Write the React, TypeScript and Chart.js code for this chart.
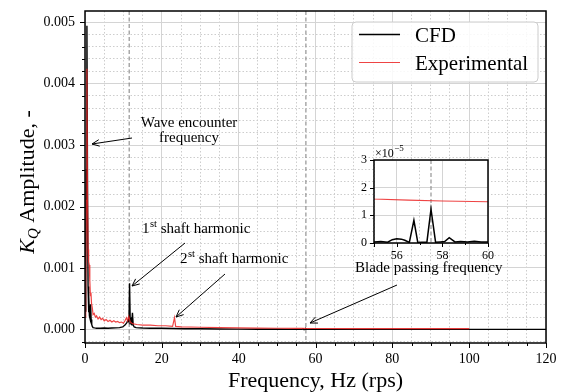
import React, { useEffect, useRef } from 'react';
import { Chart, registerables } from 'chart.js';

Chart.register(...registerables);

const SERIF = '"Liberation Serif", "Times New Roman", serif';

// ---- data ----
const cfdFreq = [0, 0.2, 0.35, 0.5, 0.65, 0.8, 0.92, 1.02, 1.15, 1.3, 1.45, 1.6, 1.75, 1.9, 2.1, 2.5, 3, 4, 5, 6, 7, 8, 9, 9.8, 10.4, 10.9, 11.2, 11.45, 11.6, 11.75, 11.95, 12.15, 12.35, 12.55, 12.8, 13.3, 14, 15, 17, 20, 23, 26, 30, 35, 40, 45, 50, 53, 55, 55.3, 55.6, 55.8, 56, 56.2, 56.35, 56.55, 56.75, 56.92, 57.1, 57.32, 57.5, 57.7, 57.9, 58.1, 58.3, 58.55, 58.8, 59.1, 59.4, 59.7, 60, 63, 66, 70, 75, 80, 90, 100, 110, 120];
const cfdAmp = [0.0003, 0.0009, 0.0026, 0.00494, 0.0024, 0.0007, 0.00028, 0.00053, 0.00022, 0.00018, 0.00041, 0.00016, 0.00008, 0.00005, 0.00003, 0.000025, 0.00002, 0.00002, 0.000022, 0.00002, 0.000022, 0.000025, 0.00003, 0.00004, 0.00007, 0.00011, 0.00015, 0.00012, 0.00075, 0.0002, 0.00009, 0.00008, 0.00027, 0.00007, 0.00004, 0.00003, 0.000025, 0.000022, 0.00002, 0.000018, 0.000015, 0.000012, 0.00001, 0.000007, 0.000005, 0.000003, 0.000002, 0.000001, 0.0000004, 0.0000005, 0.0000003, 0.0000012, 0.0000015, 0.0000014, 0.000001, 0.0000002, 0.0000082, 0.0000002, 0.0000003, 0.0000003, 0.0000122, 0.0000003, 0.0000004, 0.0000005, 0.0000019, 0.0000004, 0.0000005, 0.0000004, 0.0000006, 0.0000004, 0.0000004, 0.0000004, 0.0000003, 0.0000003, 0.0000003, 0.0000002, 0.0000002, 0.0000002, 0.0000002, 0.0000002];

const expFreq = [0, 0.2, 0.35, 0.5, 0.65, 0.8, 0.95, 1.1, 1.25, 1.4, 1.55, 1.7, 1.9, 2.1, 2.4, 2.7, 3.0, 3.4, 3.8, 4.2, 4.6, 5.0, 5.5, 6.0, 6.5, 7.0, 7.5, 8.0, 8.5, 9.0, 9.5, 10.0, 10.4, 10.8, 11.1, 11.4, 11.8, 12.2, 12.7, 13.5, 15, 17, 19, 21, 22.8, 23.3, 23.6, 25, 30, 35, 40, 45, 50, 55, 56.5, 58, 60, 70, 80, 90, 100];
const expAmp = [0.0002, 0.0008, 0.0021, 0.00424, 0.0022, 0.0013, 0.0011, 0.00105, 0.0008, 0.00055, 0.0006, 0.00042, 0.00035, 0.00024, 0.00026, 0.0002, 0.00022, 0.00017, 0.0002, 0.00016, 0.00018, 0.00014, 0.00016, 0.00013, 0.00015, 0.00012, 0.00014, 0.00012, 0.00013, 0.00011, 0.00012, 0.0001, 0.00014, 0.00019, 0.00014, 0.00021, 0.00012, 0.0001, 0.00009, 0.00008, 0.00007, 0.00007, 0.00006, 0.00006, 0.00005, 0.00019, 0.00005, 0.00004, 0.000035, 0.00003, 0.000026, 0.000022, 0.000019, 0.0000159, 0.0000155, 0.0000152, 0.0000149, 0.000014, 0.0000135, 0.000013, 0.0000125];

const seriesLabels = ['CFD', 'Experimental'];
const xMajorTicks = [0, 20, 40, 60, 80, 100, 120];
const yMajorTicks = [0, 0.001, 0.002, 0.003, 0.004, 0.005];
const markerFreqs = [11.5, 57.5];
const insetXMajor = [56, 58, 60];
const insetYTicks = [0, 1e-5, 2e-5, 3e-5];

const CFD_COLOR = '#000000';
const EXP_COLOR = 'rgba(235,35,35,0.85)';

const near = (v: number, list: number[], eps: number) => list.some((m) => Math.abs(m - v) < eps);

function gridOpts(isMajor: (v: number) => boolean) {
  return {
    grid: {
      drawTicks: false,
      lineWidth: 1,
      color: (c: any) => (c.tick && isMajor(c.tick.value) ? '#d4d4d4' : '#cdcdcd'),
    },
    border: {
      display: false,
      dash: (c: any) => (c.tick && isMajor(c.tick.value) ? [] : [1.5, 2]),
    },
  };
}

function drawTickMarks(chart: any, isMajX: (v: number) => boolean, isMajY: (v: number) => boolean, majLen: number, minLen: number) {
  const { ctx, chartArea, scales } = chart;
  const { left, right, top, bottom } = chartArea;
  ctx.save();
  ctx.strokeStyle = '#000';
  ctx.lineWidth = 1;
  scales.x.ticks.forEach((t: any) => {
    const px = Math.round(scales.x.getPixelForValue(t.value)) + 0.5;
    if (px < left - 1 || px > right + 1) return;
    const len = isMajX(t.value) ? majLen : minLen;
    ctx.beginPath();
    ctx.moveTo(px, bottom);
    ctx.lineTo(px, bottom + len);
    ctx.stroke();
  });
  scales.y.ticks.forEach((t: any) => {
    const py = Math.round(scales.y.getPixelForValue(t.value)) + 0.5;
    if (py < top - 1 || py > bottom + 1) return;
    const len = isMajY(t.value) ? majLen : minLen;
    ctx.beginPath();
    ctx.moveTo(left, py);
    ctx.lineTo(left - len, py);
    ctx.stroke();
  });
  ctx.restore();
}

function drawFrame(chart: any, w: number) {
  const { ctx, chartArea } = chart;
  ctx.save();
  ctx.strokeStyle = '#000';
  ctx.lineWidth = w;
  ctx.strokeRect(chartArea.left, chartArea.top, chartArea.right - chartArea.left, chartArea.bottom - chartArea.top);
  ctx.restore();
}

function drawMarkers(chart: any) {
  const { ctx, chartArea, scales } = chart;
  ctx.save();
  ctx.strokeStyle = '#8a8a8a';
  ctx.lineWidth = 1.1;
  ctx.setLineDash([4, 2.5]);
  markerFreqs.forEach((f) => {
    if (f < scales.x.min || f > scales.x.max) return;
    const px = scales.x.getPixelForValue(f);
    ctx.beginPath();
    ctx.moveTo(px, chartArea.top);
    ctx.lineTo(px, chartArea.bottom);
    ctx.stroke();
  });
  ctx.restore();
}

function arrow(ctx: CanvasRenderingContext2D, x1: number, y1: number, x2: number, y2: number) {
  ctx.save();
  ctx.strokeStyle = '#000';
  ctx.lineWidth = 1;
  ctx.beginPath();
  ctx.moveTo(x1, y1);
  ctx.lineTo(x2, y2);
  ctx.stroke();
  const a = Math.atan2(y2 - y1, x2 - x1);
  const L = 8;
  const s = 0.42;
  ctx.beginPath();
  ctx.moveTo(x2 - L * Math.cos(a - s), y2 - L * Math.sin(a - s));
  ctx.lineTo(x2, y2);
  ctx.lineTo(x2 - L * Math.cos(a + s), y2 - L * Math.sin(a + s));
  ctx.stroke();
  ctx.restore();
}

function ordinalText(ctx: CanvasRenderingContext2D, x: number, y: number, num: string, sup: string, rest: string) {
  ctx.font = `15px ${SERIF}`;
  ctx.fillText(num, x, y);
  let cx = x + ctx.measureText(num).width + 0.5;
  ctx.font = `10.5px ${SERIF}`;
  ctx.fillText(sup, cx, y - 6);
  cx += ctx.measureText(sup).width;
  ctx.font = `15px ${SERIF}`;
  ctx.fillText(rest, cx, y);
}

const mainDecor = {
  id: 'mainDecor',
  beforeDatasetsDraw(chart: any) {
    drawMarkers(chart);
  },
  afterDraw(chart: any) {
    const { ctx, chartArea } = chart;
    drawFrame(chart, 1.5);
    drawTickMarks(
      chart,
      (v) => near(v, xMajorTicks, 1e-6),
      (v) => near(v, yMajorTicks, 1e-9),
      5,
      3
    );

    // legend
    ctx.save();
    const lx = 352, ly = 22, lw = 186, lh = 60, r = 4;
    ctx.beginPath();
    ctx.moveTo(lx + r, ly);
    ctx.arcTo(lx + lw, ly, lx + lw, ly + lh, r);
    ctx.arcTo(lx + lw, ly + lh, lx, ly + lh, r);
    ctx.arcTo(lx, ly + lh, lx, ly, r);
    ctx.arcTo(lx, ly, lx + lw, ly, r);
    ctx.closePath();
    ctx.fillStyle = 'rgba(255,255,255,0.85)';
    ctx.fill();
    ctx.strokeStyle = '#cccccc';
    ctx.lineWidth = 1;
    ctx.stroke();
    ctx.lineWidth = 1.6;
    ctx.strokeStyle = CFD_COLOR;
    ctx.beginPath(); ctx.moveTo(359, 34.5); ctx.lineTo(400, 34.5); ctx.stroke();
    ctx.lineWidth = 1;
    ctx.strokeStyle = EXP_COLOR;
    ctx.beginPath(); ctx.moveTo(359, 62.5); ctx.lineTo(400, 62.5); ctx.stroke();
    ctx.fillStyle = '#000';
    ctx.font = `21px ${SERIF}`;
    ctx.textBaseline = 'alphabetic';
    ctx.textAlign = 'left';
    ctx.fillText(seriesLabels[0], 415, 42);
    ctx.fillText(seriesLabels[1], 415, 70);
    ctx.restore();

    // annotations
    ctx.save();
    ctx.fillStyle = '#000';
    ctx.textBaseline = 'alphabetic';
    ctx.font = `15px ${SERIF}`;
    ctx.textAlign = 'center';
    ctx.fillText('Wave encounter', 189, 127);
    ctx.fillText('frequency', 189, 142);
    ctx.textAlign = 'left';
    ordinalText(ctx, 142, 233, '1', 'st', ' shaft harmonic');
    ordinalText(ctx, 180, 263, '2', 'st', ' shaft harmonic');
    ctx.font = `15px ${SERIF}`;
    ctx.fillText('Blade passing frequency', 355, 272);
    ctx.restore();
    arrow(ctx, 132, 138, 92, 144);
    arrow(ctx, 185, 243, 132, 286);
    arrow(ctx, 225, 274, 176, 317);
    arrow(ctx, 397, 285, 310, 323);

    // axis titles
    ctx.save();
    ctx.fillStyle = '#000';
    ctx.textBaseline = 'alphabetic';
    ctx.textAlign = 'center';
    ctx.font = `22px ${SERIF}`;
    ctx.fillText('Frequency, Hz (rps)', (chartArea.left + chartArea.right) / 2, 387);
    // y title: K_Q Amplitude, -
    ctx.translate(34, 182);
    ctx.rotate(-Math.PI / 2);
    ctx.textAlign = 'left';
    ctx.font = `italic 22px ${SERIF}`;
    const wK = ctx.measureText('K').width;
    ctx.font = `italic 15px ${SERIF}`;
    const wQ = ctx.measureText('Q').width;
    ctx.font = `22px ${SERIF}`;
    const rest = ' Amplitude, -';
    const wR = ctx.measureText(rest).width;
    let x0 = -(wK + wQ + wR) / 2;
    ctx.font = `italic 22px ${SERIF}`;
    ctx.fillText('K', x0, 0);
    x0 += wK;
    ctx.font = `italic 15px ${SERIF}`;
    ctx.fillText('Q', x0, 4);
    x0 += wQ;
    ctx.font = `22px ${SERIF}`;
    ctx.fillText(rest, x0, 0);
    ctx.restore();
  },
};

const insetDecor = {
  id: 'insetDecor',
  beforeDraw(chart: any) {
    const { ctx, chartArea } = chart;
    ctx.save();
    ctx.fillStyle = '#ffffff';
    ctx.fillRect(chartArea.left, chartArea.top, chartArea.right - chartArea.left, chartArea.bottom - chartArea.top);
    ctx.restore();
  },
  beforeDatasetsDraw(chart: any) {
    drawMarkers(chart);
  },
  afterDraw(chart: any) {
    const { ctx, chartArea } = chart;
    drawFrame(chart, 1.5);
    drawTickMarks(
      chart,
      (v) => near(v, insetXMajor, 1e-6) || Math.abs(v - 55) < 1e-6,
      () => true,
      4,
      2
    );
    ctx.save();
    ctx.fillStyle = '#000';
    ctx.textBaseline = 'alphabetic';
    ctx.textAlign = 'left';
    ctx.font = `12px ${SERIF}`;
    const bx = chartArea.left + 1;
    const by = chartArea.top - 3;
    ctx.fillText('\u00d710', bx, by);
    const w = ctx.measureText('\u00d710').width;
    ctx.font = `9px ${SERIF}`;
    ctx.fillText('\u22125', bx + w + 0.5, by - 6);
    ctx.restore();
  },
};

const noPadV = (h: number) => (s: any) => {
  s.height = h;
  s.paddingLeft = 0;
  s.paddingRight = 0;
  s.paddingTop = 0;
  s.paddingBottom = 0;
};
const noPadH = (w: number) => (s: any) => {
  s.width = w;
  s.paddingLeft = 0;
  s.paddingRight = 0;
  s.paddingTop = 0;
  s.paddingBottom = 0;
};

export default function App() {
  const mainRef = useRef<HTMLCanvasElement>(null);
  const insetRef = useRef<HTMLCanvasElement>(null);

  useEffect(() => {
    const cfdData = cfdFreq.map((f, i) => ({ x: f, y: cfdAmp[i] }));
    const expData = expFreq.map((f, i) => ({ x: f, y: expAmp[i] }));

    const datasets = (wCfd: number, wExp: number) => [
      {
        label: seriesLabels[1],
        data: expData,
        borderColor: EXP_COLOR,
        borderWidth: wExp,
        pointRadius: 0,
        tension: 0,
        order: 0,
      },
      {
        label: seriesLabels[0],
        data: cfdData,
        borderColor: CFD_COLOR,
        borderWidth: wCfd,
        pointRadius: 0,
        tension: 0,
        order: 1,
      },
    ];

    const isMajX = (v: number) => near(v, xMajorTicks, 1e-6);
    const isMajY = (v: number) => near(v, yMajorTicks, 1e-9);

    const main = new Chart(mainRef.current!, {
      type: 'line',
      data: { datasets: datasets(1.4, 1.2) as any },
      options: {
        animation: false,
        responsive: false,
        devicePixelRatio: 1,
        layout: { padding: { left: 0, right: 15, top: 11, bottom: 0 } },
        plugins: { legend: { display: false }, tooltip: { enabled: false } },
        scales: {
          x: {
            type: 'linear',
            min: 0,
            max: 120,
            afterFit: noPadV(49),
            ticks: {
              stepSize: 5,
              autoSkip: false,
              maxRotation: 0,
              includeBounds: false,
              padding: 8,
              color: '#000',
              font: { family: SERIF, size: 14 },
              callback: (v: any) => (isMajX(Number(v)) ? String(Math.round(Number(v))) : ''),
            },
            ...gridOpts(isMajX),
          },
          y: {
            type: 'linear',
            min: -0.000221,
            max: 0.005181,
            afterFit: noPadH(85),
            ticks: {
              stepSize: 0.0002,
              autoSkip: false,
              includeBounds: false,
              padding: 10,
              color: '#000',
              font: { family: SERIF, size: 14 },
              callback: (v: any) => (isMajY(Number(v)) ? Number(v).toFixed(3) : ''),
            },
            ...gridOpts(isMajY),
          },
        },
      } as any,
      plugins: [mainDecor],
    });

    const insetMajX = (v: number) => near(v, insetXMajor, 1e-6);
    const inset = new Chart(insetRef.current!, {
      type: 'line',
      data: { datasets: datasets(1.5, 1.1) as any },
      options: {
        animation: false,
        responsive: false,
        devicePixelRatio: 1,
        layout: { padding: { left: 0, right: 12, top: 20, bottom: 0 } },
        plugins: { legend: { display: false }, tooltip: { enabled: false } },
        scales: {
          x: {
            type: 'linear',
            min: 55,
            max: 60,
            afterFit: noPadV(27),
            ticks: {
              stepSize: 1,
              autoSkip: false,
              maxRotation: 0,
              includeBounds: false,
              padding: 6,
              color: '#000',
              font: { family: SERIF, size: 12 },
              callback: (v: any) => (insetMajX(Number(v)) ? String(Math.round(Number(v))) : ''),
            },
            ...gridOpts((v) => insetMajX(v)),
          },
          y: {
            type: 'linear',
            min: 0,
            max: 3e-5,
            afterFit: noPadH(34),
            ticks: {
              stepSize: 1e-5,
              autoSkip: false,
              includeBounds: false,
              padding: 7,
              color: '#000',
              font: { family: SERIF, size: 12 },
              callback: (v: any) => (near(Number(v), insetYTicks, 1e-9) ? String(Math.round(Number(v) / 1e-5)) : ''),
            },
            ...gridOpts(() => true),
          },
        },
      } as any,
      plugins: [insetDecor],
    });

    return () => {
      main.destroy();
      inset.destroy();
    };
  }, []);

  return (
    <div style={{ position: 'absolute', left: 0, top: 0, width: 561, height: 392, background: '#fff' }}>
      <canvas ref={mainRef} width={561} height={392} style={{ position: 'absolute', left: 0, top: 0 }} />
      <canvas ref={insetRef} width={160} height={130} style={{ position: 'absolute', left: 340, top: 140 }} />
    </div>
  );
}
